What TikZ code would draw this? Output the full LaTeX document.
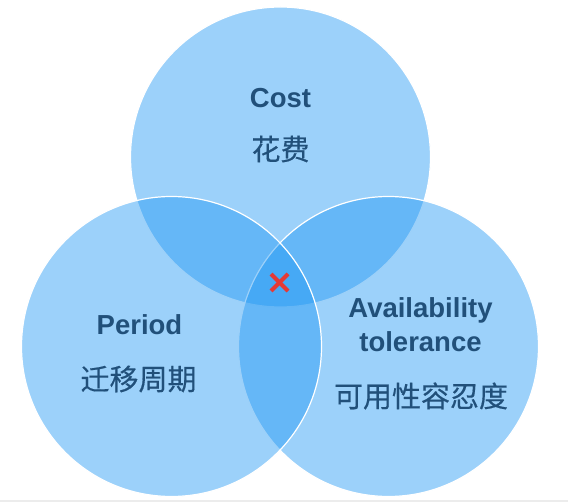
\documentclass[tikz,border=0pt]{standalone}
\usepackage{fontspec}
\setmainfont{Liberation Sans}
\newfontfamily\cjk{Noto Sans CJK SC}[FakeBold=0.4]
\begin{document}
\begin{tikzpicture}[x=1pt,y=-1pt,
  setcircle/.style={circle,inner sep=0pt,minimum size=300pt,
    fill={rgb,255:red,30;green,150;blue,243},fill opacity=0.44,
    draw=white,draw opacity=1,line width=1.2pt},
  title/.style={anchor=base,inner sep=0pt,text={rgb,255:red,33;green,80;blue,122},
    font=\fontsize{27.5}{33}\selectfont\bfseries},
  cjklabel/.style={anchor=center,inner sep=0pt,text={rgb,255:red,33;green,80;blue,122},
    font=\fontsize{29}{34}\selectfont\cjk},
  cross/.style={draw={rgb,255:red,229;green,57;blue,53},line width=4pt}]
  % canvas and the thin grey rule along the bottom edge
  \useasboundingbox (0,0) rectangle (568,502);
  \fill[gray!15] (0,500) rectangle (568,502);

  % the three sets
  \node[setcircle] (costset) at (280.5,157) {};
  \node[setcircle] (availset) at (388.5,346.5) {};
  \node[setcircle] (periodset) at (171.5,346.5) {};

  % labels
  \node[title] (cost) at (280.5,107.5) {Cost};
  \node[cjklabel] (costzh) at (280.5,149) {花费};
  \node[title] (period) at (139.5,335) {Period};
  \node[cjklabel] (periodzh) at (138.5,379) {迁移周期};
  \node[title] (avail) at (420.5,317.5) {Availability};
  \node[title] (toler) at (420.5,352) {tolerance};
  \node[cjklabel] (availzh) at (421,396) {可用性容忍度};

  % mark in the common intersection
  \coordinate (centre) at (279.5,282.5);
  \draw[cross] (centre) ++(-8.5,-8.5) -- ++(17,17);
  \draw[cross] (centre) ++(8.5,-8.5) -- ++(-17,17);
\end{tikzpicture}
\end{document}
